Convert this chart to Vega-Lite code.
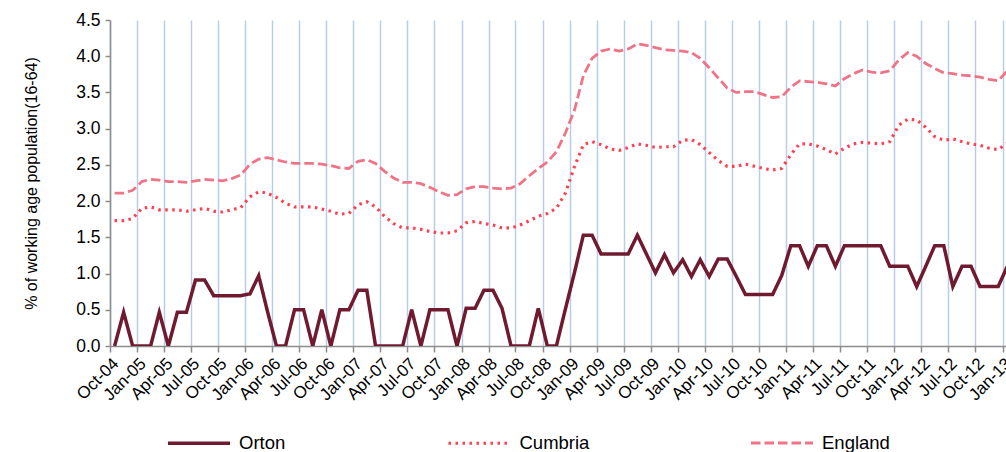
{
  "$schema": "https://vega.github.io/schema/vega-lite/v6.json",
  "width": 896,
  "height": 326,
  "autosize": {"type": "none"},
  "padding": {"left": 110, "top": 20, "right": 0, "bottom": 106},
  "background": "white",
  "config": {"view": {"stroke": null}, "font": "Liberation Sans"},
  "data": {"values": [
    {"month": "2004-10-01", "Orton": 0, "Cumbria": 1.73, "England": 2.11},
    {"month": "2004-11-01", "Orton": 0.465, "Cumbria": 1.73, "England": 2.11},
    {"month": "2004-12-01", "Orton": 0, "Cumbria": 1.76, "England": 2.15},
    {"month": "2005-01-01", "Orton": 0, "Cumbria": 1.90, "England": 2.27},
    {"month": "2005-02-01", "Orton": 0, "Cumbria": 1.92, "England": 2.30},
    {"month": "2005-03-01", "Orton": 0.465, "Cumbria": 1.88, "England": 2.29},
    {"month": "2005-04-01", "Orton": 0, "Cumbria": 1.88, "England": 2.27},
    {"month": "2005-05-01", "Orton": 0.465, "Cumbria": 1.88, "England": 2.27},
    {"month": "2005-06-01", "Orton": 0.465, "Cumbria": 1.86, "England": 2.26},
    {"month": "2005-07-01", "Orton": 0.91, "Cumbria": 1.88, "England": 2.28},
    {"month": "2005-08-01", "Orton": 0.91, "Cumbria": 1.90, "England": 2.30},
    {"month": "2005-09-01", "Orton": 0.695, "Cumbria": 1.86, "England": 2.29},
    {"month": "2005-10-01", "Orton": 0.695, "Cumbria": 1.85, "England": 2.28},
    {"month": "2005-11-01", "Orton": 0.695, "Cumbria": 1.88, "England": 2.31},
    {"month": "2005-12-01", "Orton": 0.695, "Cumbria": 1.91, "England": 2.36},
    {"month": "2006-01-01", "Orton": 0.72, "Cumbria": 2.06, "England": 2.51},
    {"month": "2006-02-01", "Orton": 0.97, "Cumbria": 2.13, "England": 2.58},
    {"month": "2006-03-01", "Orton": 0.48, "Cumbria": 2.11, "England": 2.60},
    {"month": "2006-04-01", "Orton": 0, "Cumbria": 2.05, "England": 2.57},
    {"month": "2006-05-01", "Orton": 0, "Cumbria": 1.97, "England": 2.54},
    {"month": "2006-06-01", "Orton": 0.50, "Cumbria": 1.92, "England": 2.52},
    {"month": "2006-07-01", "Orton": 0.50, "Cumbria": 1.92, "England": 2.52},
    {"month": "2006-08-01", "Orton": 0, "Cumbria": 1.92, "England": 2.52},
    {"month": "2006-09-01", "Orton": 0.50, "Cumbria": 1.89, "England": 2.51},
    {"month": "2006-10-01", "Orton": 0, "Cumbria": 1.86, "England": 2.49},
    {"month": "2006-11-01", "Orton": 0.50, "Cumbria": 1.82, "England": 2.46},
    {"month": "2006-12-01", "Orton": 0.50, "Cumbria": 1.83, "England": 2.45},
    {"month": "2007-01-01", "Orton": 0.77, "Cumbria": 1.95, "England": 2.55},
    {"month": "2007-02-01", "Orton": 0.77, "Cumbria": 1.99, "England": 2.57},
    {"month": "2007-03-01", "Orton": 0, "Cumbria": 1.92, "England": 2.52},
    {"month": "2007-04-01", "Orton": 0, "Cumbria": 1.79, "England": 2.41},
    {"month": "2007-05-01", "Orton": 0, "Cumbria": 1.69, "England": 2.32},
    {"month": "2007-06-01", "Orton": 0, "Cumbria": 1.63, "England": 2.26},
    {"month": "2007-07-01", "Orton": 0.50, "Cumbria": 1.63, "England": 2.26},
    {"month": "2007-08-01", "Orton": 0, "Cumbria": 1.61, "England": 2.24},
    {"month": "2007-09-01", "Orton": 0.50, "Cumbria": 1.58, "England": 2.19},
    {"month": "2007-10-01", "Orton": 0.50, "Cumbria": 1.56, "England": 2.13},
    {"month": "2007-11-01", "Orton": 0.50, "Cumbria": 1.56, "England": 2.08},
    {"month": "2007-12-01", "Orton": 0, "Cumbria": 1.59, "England": 2.09},
    {"month": "2008-01-01", "Orton": 0.52, "Cumbria": 1.70, "England": 2.17},
    {"month": "2008-02-01", "Orton": 0.52, "Cumbria": 1.72, "England": 2.20},
    {"month": "2008-03-01", "Orton": 0.77, "Cumbria": 1.69, "England": 2.20},
    {"month": "2008-04-01", "Orton": 0.77, "Cumbria": 1.67, "England": 2.18},
    {"month": "2008-05-01", "Orton": 0.52, "Cumbria": 1.63, "England": 2.17},
    {"month": "2008-06-01", "Orton": 0, "Cumbria": 1.63, "England": 2.18},
    {"month": "2008-07-01", "Orton": 0, "Cumbria": 1.67, "England": 2.24},
    {"month": "2008-08-01", "Orton": 0, "Cumbria": 1.73, "England": 2.35},
    {"month": "2008-09-01", "Orton": 0.52, "Cumbria": 1.79, "England": 2.45},
    {"month": "2008-10-01", "Orton": 0, "Cumbria": 1.83, "England": 2.54},
    {"month": "2008-11-01", "Orton": 0, "Cumbria": 1.90, "England": 2.68},
    {"month": "2008-12-01", "Orton": 0.51, "Cumbria": 2.11, "England": 2.94},
    {"month": "2009-01-01", "Orton": 1.02, "Cumbria": 2.48, "England": 3.26},
    {"month": "2009-02-01", "Orton": 1.53, "Cumbria": 2.78, "England": 3.73},
    {"month": "2009-03-01", "Orton": 1.53, "Cumbria": 2.82, "England": 3.97},
    {"month": "2009-04-01", "Orton": 1.27, "Cumbria": 2.78, "England": 4.07},
    {"month": "2009-05-01", "Orton": 1.27, "Cumbria": 2.72, "England": 4.10},
    {"month": "2009-06-01", "Orton": 1.27, "Cumbria": 2.70, "England": 4.07},
    {"month": "2009-07-01", "Orton": 1.27, "Cumbria": 2.74, "England": 4.10},
    {"month": "2009-08-01", "Orton": 1.53, "Cumbria": 2.79, "England": 4.17},
    {"month": "2009-09-01", "Orton": 1.27, "Cumbria": 2.77, "England": 4.15},
    {"month": "2009-10-01", "Orton": 1.01, "Cumbria": 2.74, "England": 4.12},
    {"month": "2009-11-01", "Orton": 1.26, "Cumbria": 2.75, "England": 4.09},
    {"month": "2009-12-01", "Orton": 1.01, "Cumbria": 2.75, "England": 4.08},
    {"month": "2010-01-01", "Orton": 1.19, "Cumbria": 2.84, "England": 4.07},
    {"month": "2010-02-01", "Orton": 0.96, "Cumbria": 2.85, "England": 4.05},
    {"month": "2010-03-01", "Orton": 1.19, "Cumbria": 2.78, "England": 3.97},
    {"month": "2010-04-01", "Orton": 0.96, "Cumbria": 2.67, "England": 3.84},
    {"month": "2010-05-01", "Orton": 1.20, "Cumbria": 2.56, "England": 3.70},
    {"month": "2010-06-01", "Orton": 1.20, "Cumbria": 2.48, "England": 3.56},
    {"month": "2010-07-01", "Orton": 0.96, "Cumbria": 2.48, "England": 3.50},
    {"month": "2010-08-01", "Orton": 0.71, "Cumbria": 2.51, "England": 3.51},
    {"month": "2010-09-01", "Orton": 0.71, "Cumbria": 2.48, "England": 3.51},
    {"month": "2010-10-01", "Orton": 0.71, "Cumbria": 2.45, "England": 3.47},
    {"month": "2010-11-01", "Orton": 0.71, "Cumbria": 2.43, "England": 3.43},
    {"month": "2010-12-01", "Orton": 0.97, "Cumbria": 2.45, "England": 3.44},
    {"month": "2011-01-01", "Orton": 1.385, "Cumbria": 2.64, "England": 3.57},
    {"month": "2011-02-01", "Orton": 1.385, "Cumbria": 2.79, "England": 3.66},
    {"month": "2011-03-01", "Orton": 1.10, "Cumbria": 2.79, "England": 3.65},
    {"month": "2011-04-01", "Orton": 1.385, "Cumbria": 2.76, "England": 3.64},
    {"month": "2011-05-01", "Orton": 1.385, "Cumbria": 2.71, "England": 3.62},
    {"month": "2011-06-01", "Orton": 1.10, "Cumbria": 2.65, "England": 3.59},
    {"month": "2011-07-01", "Orton": 1.385, "Cumbria": 2.73, "England": 3.69},
    {"month": "2011-08-01", "Orton": 1.385, "Cumbria": 2.79, "England": 3.76},
    {"month": "2011-09-01", "Orton": 1.385, "Cumbria": 2.81, "England": 3.81},
    {"month": "2011-10-01", "Orton": 1.385, "Cumbria": 2.80, "England": 3.78},
    {"month": "2011-11-01", "Orton": 1.385, "Cumbria": 2.79, "England": 3.77},
    {"month": "2011-12-01", "Orton": 1.10, "Cumbria": 2.82, "England": 3.80},
    {"month": "2012-01-01", "Orton": 1.10, "Cumbria": 3.05, "England": 3.95},
    {"month": "2012-02-01", "Orton": 1.10, "Cumbria": 3.13, "England": 4.05},
    {"month": "2012-03-01", "Orton": 0.82, "Cumbria": 3.12, "England": 4.00},
    {"month": "2012-04-01", "Orton": 1.10, "Cumbria": 3.02, "England": 3.90},
    {"month": "2012-05-01", "Orton": 1.385, "Cumbria": 2.89, "England": 3.83},
    {"month": "2012-06-01", "Orton": 1.385, "Cumbria": 2.84, "England": 3.77},
    {"month": "2012-07-01", "Orton": 0.82, "Cumbria": 2.86, "England": 3.76},
    {"month": "2012-08-01", "Orton": 1.10, "Cumbria": 2.82, "England": 3.74},
    {"month": "2012-09-01", "Orton": 1.10, "Cumbria": 2.79, "England": 3.73},
    {"month": "2012-10-01", "Orton": 0.82, "Cumbria": 2.77, "England": 3.71},
    {"month": "2012-11-01", "Orton": 0.82, "Cumbria": 2.73, "England": 3.68},
    {"month": "2012-12-01", "Orton": 0.82, "Cumbria": 2.71, "England": 3.66},
    {"month": "2013-01-01", "Orton": 1.10, "Cumbria": 2.80, "England": 3.80}
  ]},
  "transform": [{"fold": ["Orton", "Cumbria", "England"], "as": ["series", "value"]}],
  "mark": {"type": "line", "clip": true},
  "encoding": {
    "x": {
      "field": "month", "timeUnit": "utcyearmonth", "type": "temporal", "bandPosition": 0.5,
      "scale": {"domain": [{"year": 2004, "month": 10, "date": 1, "utc": true}, {"year": 2013, "month": 1, "date": 12, "utc": true}], "nice": false},
      "axis": {
        "title": null, "format": "%b-%y", "tickCount": {"interval": "month", "step": 3},
        "labelAngle": -45, "labelFontSize": 17, "labelColor": "#000000", "labelPadding": 3,
        "labelOverlap": false, "labelBound": false, "labelFlush": false,
        "grid": true, "gridColor": "#b9cde5", "gridWidth": 1.5,
        "domainColor": "#8c8c8c", "domainWidth": 1.5,
        "tickColor": "#8c8c8c", "tickWidth": 1.5, "tickSize": 6
      }
    },
    "y": {
      "field": "value", "type": "quantitative",
      "scale": {"domain": [0, 4.5], "nice": false},
      "axis": {
        "title": "% of working age population(16-64)", "titleFontSize": 16, "titleFontWeight": "normal", "titleColor": "#000000", "titlePadding": 36,
        "values": [0, 0.5, 1, 1.5, 2, 2.5, 3, 3.5, 4, 4.5], "format": ".1f",
        "labelFontSize": 17.5, "labelColor": "#000000", "labelPadding": 5,
        "grid": false, "domainColor": "#8c8c8c", "domainWidth": 1.5,
        "tickColor": "#8c8c8c", "tickWidth": 1.5, "tickSize": 5
      }
    },
    "color": {
      "field": "series", "type": "nominal",
      "scale": {"domain": ["Orton", "Cumbria", "England"], "range": ["#701a30", "#ff3f50", "#ef7487"]},
      "legend": {
        "title": null, "orient": "none", "legendX": 56, "legendY": 390, "direction": "horizontal",
        "columns": 3, "columnPadding": 155.5, "symbolType": "stroke", "symbolSize": 3844,
        "symbolStrokeWidth": 3.5, "labelFontSize": 18.5, "labelColor": "#000000", "labelOffset": 7, "padding": 0
      }
    },
    "strokeDash": {
      "field": "series", "type": "nominal",
      "scale": {"domain": ["Orton", "Cumbria", "England"], "range": [[1, 0], [2.5, 4.5], [9.5, 4]]}
    },
    "strokeWidth": {
      "field": "series", "type": "nominal",
      "scale": {"domain": ["Orton", "Cumbria", "England"], "range": [3.5, 2.8, 3.5]}
    }
  }
}
